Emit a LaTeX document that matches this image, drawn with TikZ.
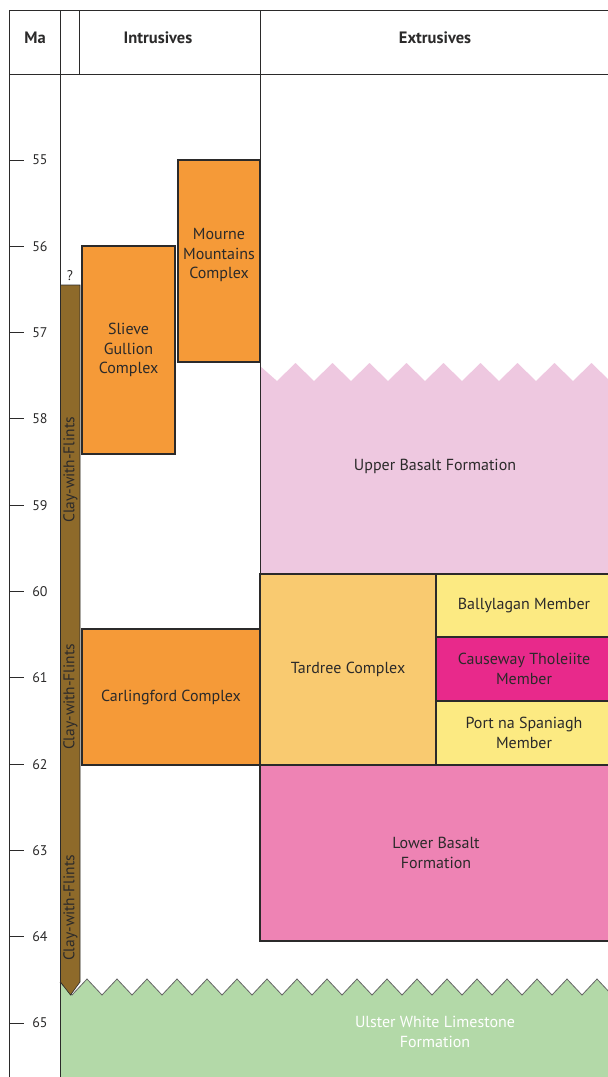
\documentclass[tikz,border=0pt]{standalone}
\usepackage{fontspec}
\setmainfont{PT Sans}
\usetikzlibrary{positioning}

\definecolor{intrusive}{HTML}{F59A38}
\definecolor{upperbas}{HTML}{EEC8E0}
\definecolor{tardree}{HTML}{F9CA70}
\definecolor{member}{HTML}{FCEA82}
\definecolor{causeway}{HTML}{E8298B}
\definecolor{lowerbas}{HTML}{EE83B4}
\definecolor{chalk}{HTML}{B3D9A8}
\definecolor{clay}{HTML}{8E6A2A}
\definecolor{ink}{HTML}{2B2A2A}

\tikzset{
    unit/.style={draw=ink, line width=1.2pt, inner sep=0pt, align=center,
        text=ink, font=\fontsize{16}{19.5}\selectfont},
    unittext/.style={align=center, text=ink, font=\fontsize{16}{19.5}\selectfont},
    head/.style={text=ink, font=\fontsize{16.5}{18}\selectfont\bfseries},
    malabel/.style={text=ink, font=\fontsize{14}{16}\selectfont},
    rule/.style={draw=ink, line width=1pt}
}

\begin{document}
\begin{tikzpicture}[x=1pt,y=-1pt]
    \useasboundingbox (0,0) rectangle (608,1077);

    % Ulster White Limestone
    \fill[chalk] (60,982) foreach \i in {0,...,18} {-- (72+30*\i,995) -- (87+30*\i,979)}
        -- (627,1077) -- (60,1077) -- cycle;
    \draw[gray!80!black, line width=0.8pt] (60,982) foreach \i in {0,...,18} {-- (72+30*\i,995) -- (87+30*\i,979)};
    \node[unittext, text=white] (ulster) at (435,1032) {Ulster White Limestone\\Formation};

    % Upper Basalt
    \fill[upperbas] (260,366) foreach \i in {0,...,9} {-- (277+37*\i,381) -- (295.5+37*\i,363)}
        -- (630,573) -- (260,573) -- cycle;
    \node[unittext] (upper) at (435,466) {Upper Basalt Formation};

    % frame and columns
    \draw[rule] (9,1077) -- (9,10) -- (612,10);
    \draw[rule] (9,74) -- (612,74);
    \draw[rule] (79,10) -- (79,74);
    \draw[rule] (60,10) -- (60,1077);
    \draw[rule] (260,10) -- (260,941);
    \node[head] (ma) at (35,38) {Ma};
    \node[head] (intr) at (158,38) {Intrusives};
    \node[head] (extr) at (435,38) {Extrusives};

    % Ma scale
    \foreach \m [evaluate=\m as \y using 160+86.3*(\m-55)] in {55,...,65} {
        \draw[rule] (9,\y) -- (24,\y);
        \node[malabel] (ma\m) at (40,\y) {\m};
    }

    % intrusives
    \node[unit, fill=intrusive, minimum width=82, minimum height=202] (mourne) at (219,261) {};
    \node[unittext] (mournetext) at (219,255) {Mourne\\Mountains\\Complex};
    \node[unit, fill=intrusive, minimum width=93, minimum height=208] (slieve) at (128.5,350)
        {Slieve\\Gullion\\Complex};
    \node[unit, fill=intrusive, minimum width=178, minimum height=136] (carling) at (171,697)
        {Carlingford Complex};

    % extrusives
    \node[unit, fill=tardree, minimum width=176, minimum height=191] (tardree) at (348,669.5)
        {Tardree Complex};
    \node[unit, fill=member, minimum width=176, minimum height=63] (bally) at (524,605.5)
        {Ballylagan Member};
    \node[unit, fill=causeway, minimum width=176, minimum height=64] (cause) at (524,669)
        {Causeway Tholeiite\\Member};
    \node[unit, fill=member, minimum width=176, minimum height=64] (port) at (524,733)
        {Port na Spaniagh\\Member};
    \node[unit, fill=lowerbas, minimum width=352, minimum height=176] (lower) at (436,853)
        {Lower Basalt\\Formation};

    % Clay-with-Flints
    \filldraw[fill=clay, draw=ink, line width=0.6pt] (60.5,285) -- (80,285) -- (80,982) -- (70.5,995) -- (60.5,982) -- cycle;
    \node[malabel] (query) at (70,276) {?};
    \foreach \p/\n in {470/a, 697/b, 908/c}
        \node[rotate=90, text=ink, font=\fontsize{15.5}{17}\selectfont] (clay\n) at (70.5,\p) {Clay-with-Flints};
\end{tikzpicture}
\end{document}
